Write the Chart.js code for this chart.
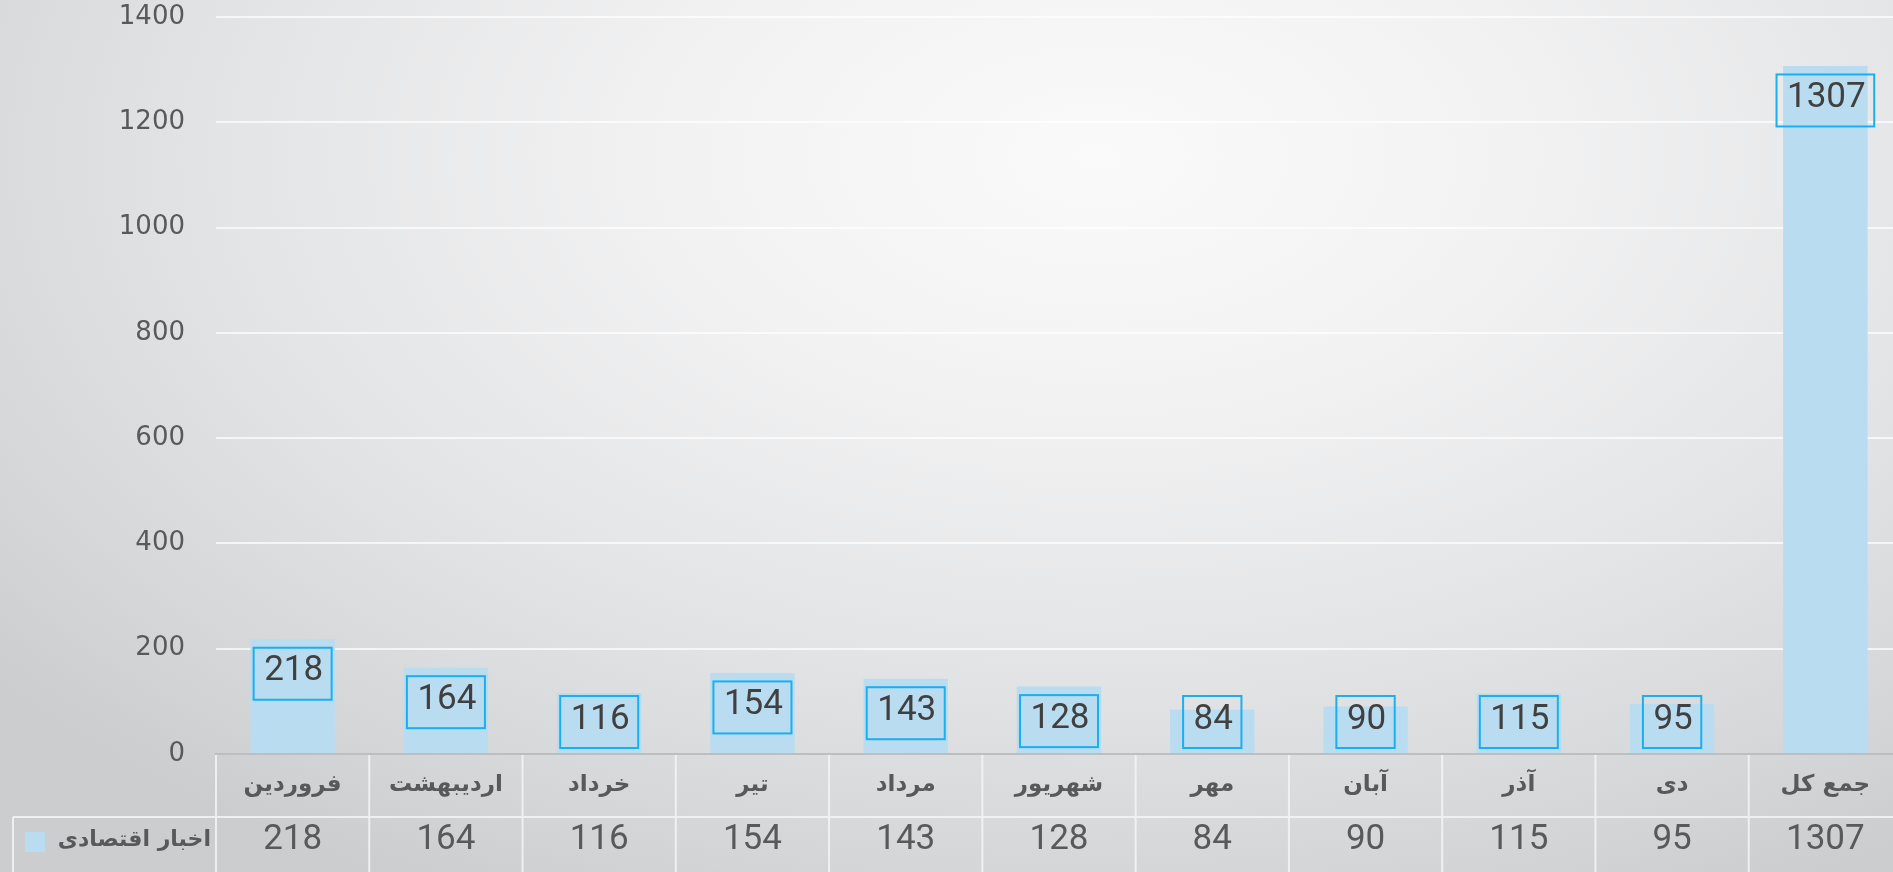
<!DOCTYPE html>
<html>
<head>
<meta charset="utf-8">
<script src="https://cdn.jsdelivr.net/npm/chart.js@4/dist/chart.umd.min.js"></script>
<style>
  html, body { margin: 0; padding: 0; overflow: hidden; width: 1893px; height: 872px; }
  body { background: radial-gradient(ellipse 75% 95% at 58% 18%, #fafafa 0%, #f2f2f3 30%, #e3e4e5 62%, #d3d5d7 88%, #cbcdcf 100%); }
  canvas { display: block; }
</style>
</head>
<body>
<canvas id="c" width="1902" height="872"></canvas>
<script>
const categories = ['فروردین', 'اردیبهشت', 'خرداد', 'تیر', 'مرداد', 'شهریور', 'مهر', 'آبان', 'آذر', 'دی', 'جمع کل'];
const seriesName = 'اخبار اقتصادی';
const values = [218, 164, 116, 154, 143, 128, 84, 90, 115, 95, 1307];
const yTicks = [0, 200, 400, 600, 800, 1000, 1200, 1400];

const barColor = '#badcf0';
const textColor = '#595959';
const tableLine = 'rgba(245,245,245,0.85)';

const tablePlugin = {
  id: 'tablePlugin',
  afterDraw(chart) {
    const ctx = chart.ctx;
    const xs = chart.scales.x, ys = chart.scales.y;
    const zero = ys.getPixelForValue(0);
    const H = chart.height, W = chart.width;
    const meta = chart.getDatasetMeta(0);

    // data label boxes
    ctx.save();
    ctx.font = '35px Roboto';
    ctx.textAlign = 'center';
    ctx.textBaseline = 'middle';
    meta.data.forEach((bar, i) => {
      const txt = String(values[i]);
      const tw = ctx.measureText(txt).width;
      const bw = tw + 19, bh = 52;
      const top = Math.min(bar.y + 8.5, zero - 58);
      ctx.strokeStyle = '#1ab0ef';
      ctx.lineWidth = 2;
      ctx.strokeRect(bar.x - bw / 2, top, bw, bh);
      ctx.fillStyle = '#404040';
      ctx.fillText(txt, bar.x + 1, top + bh / 2 - 2);
    });
    ctx.restore();

    // table lines
    ctx.save();
    ctx.strokeStyle = tableLine;
    ctx.lineWidth = 2;
    const rowY = zero + 63;
    ctx.beginPath();
    ctx.moveTo(13, rowY); ctx.lineTo(W, rowY);
    ctx.moveTo(13, rowY); ctx.lineTo(13, H);
    const n = categories.length;
    for (let i = 0; i <= n; i++) {
      let x;
      if (i === 0) x = xs.left;
      else if (i === n) x = xs.right;
      else x = (xs.getPixelForValue(i - 1) + xs.getPixelForValue(i)) / 2;
      ctx.moveTo(x, zero + 1); ctx.lineTo(x, H);
    }
    ctx.stroke();

    // values row
    ctx.font = '35px Roboto';
    ctx.fillStyle = textColor;
    ctx.textAlign = 'center';
    ctx.textBaseline = 'middle';
    values.forEach((v, i) => {
      ctx.fillText(String(v), xs.getPixelForValue(i), rowY + 23);
    });

    // legend
    ctx.fillStyle = barColor;
    ctx.fillRect(25, rowY + 15, 20, 20);
    ctx.font = 'bold 22px "DejaVu Sans"';
    ctx.fillStyle = textColor;
    ctx.textAlign = 'right';
    ctx.direction = 'rtl';
    ctx.fillText(seriesName, 211, rowY + 23);
    ctx.restore();
  }
};

new Chart(document.getElementById('c'), {
  type: 'bar',
  data: {
    labels: categories,
    datasets: [{
      label: seriesName,
      data: values,
      backgroundColor: barColor,
      borderWidth: 0,
      categoryPercentage: 1,
      barPercentage: 0.551
    }]
  },
  options: {
    responsive: false,
    animation: false,
    layout: { padding: { top: 17, left: 0, right: 0, bottom: 0 } },
    plugins: { legend: { display: false }, tooltip: { enabled: false } },
    scales: {
      x: {
        offset: true,
        grid: { display: false, drawTicks: false },
        border: { display: true, color: '#bdbebf', width: 2 },
        ticks: {
          color: textColor,
          font: { family: 'DejaVu Sans', size: 23, weight: 'bold' },
          padding: 17,
          maxRotation: 0,
          autoSkip: false
        },
        afterFit(scale) { scale.height = 118; scale.paddingLeft = 0; scale.paddingRight = 0; }
      },
      y: {
        min: 0,
        max: 1400,
        afterBuildTicks(scale) { scale.ticks = yTicks.map(v => ({ value: v })); },
        grid: {
          color: (c) => (c.tick && c.tick.value === 0) ? 'rgba(0,0,0,0)' : 'rgba(255,255,255,0.7)',
          lineWidth: 2,
          drawTicks: false
        },
        border: { display: false },
        ticks: {
          color: textColor,
          font: { family: 'DejaVu Sans', size: 26 },
          padding: 31,
          callback: (v) => String(v)
        },
        afterFit(scale) { scale.width = 216; scale.paddingTop = 0; scale.paddingBottom = 0; }
      }
    }
  },
  plugins: [tablePlugin]
});
</script>
</body>
</html>
